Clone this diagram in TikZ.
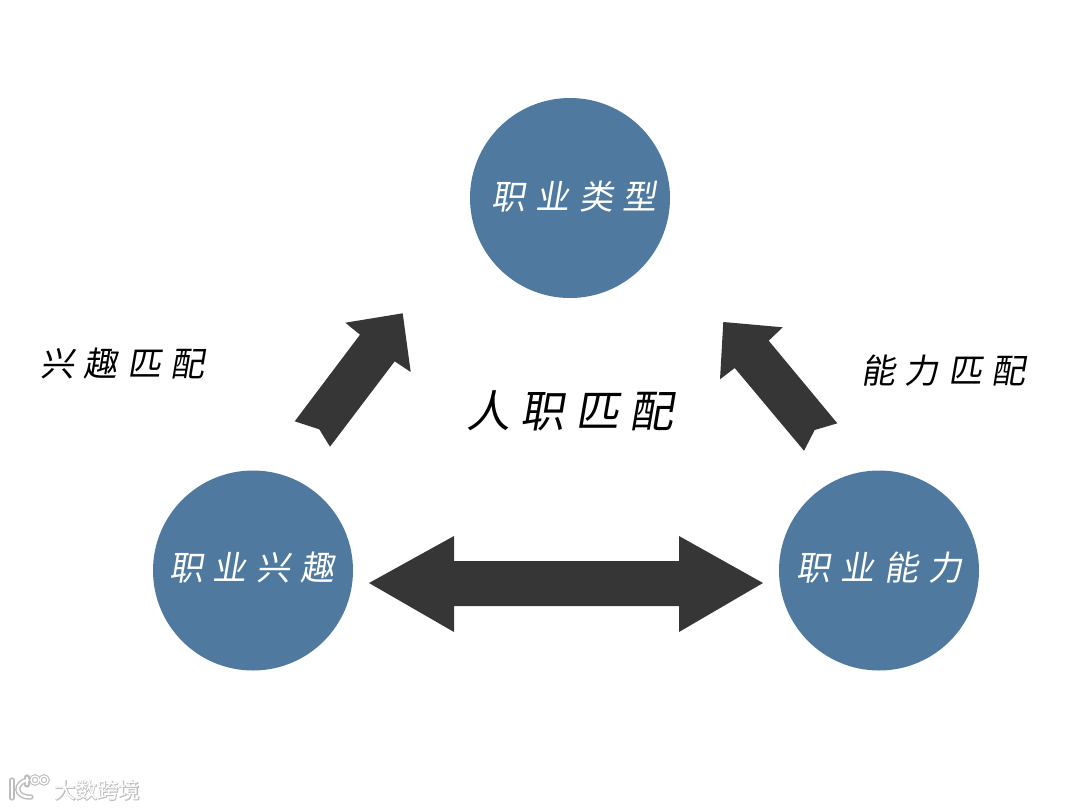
\documentclass[tikz,border=0pt]{standalone}
\usepackage{fontspec}
\newfontfamily\cjkslant[FakeSlant=0.17]{Noto Sans CJK SC}
\newfontfamily\cjkplain{Noto Sans CJK SC}
\newfontfamily\cjkhalo[FakeBold=4]{Noto Sans CJK SC}
\definecolor{disc}{HTML}{4F799F}
\definecolor{blockc}{HTML}{363636}
\definecolor{wshadow}{HTML}{BDBDBD}
\tikzset{
  x=0.75pt,y=-0.75pt,
  disc/.style={circle,fill=disc,minimum size=150pt,inner sep=0pt},
  blockarrow/.style={fill=blockc,draw=none},
  small/.style={font=\cjkslant\fontsize{25.5pt}{28pt}\selectfont,inner sep=0pt},
  smallw/.style={small,text=white},
  big/.style={font=\cjkslant\fontsize{33pt}{36pt}\selectfont,inner sep=0pt,text=black},
  wm/.style={font=\cjkplain\fontsize{16pt}{18pt}\selectfont,inner sep=0pt},
  wmh/.style={font=\cjkhalo\fontsize{16pt}{18pt}\selectfont,inner sep=0pt,text=wshadow},
  logoa/.style={line width=1.8pt,line cap=round},
  logob/.style={line width=1pt},
  logoah/.style={line width=4pt,line cap=round,wshadow},
  logobh/.style={line width=2.6pt,wshadow},
}
\newcommand{\gp}{\hspace{7.5pt}}
\newcommand{\gb}{\hspace{7pt}}
\newcommand{\gm}{\hspace{8pt}}
\begin{document}
\begin{tikzpicture}
\useasboundingbox (0,0) rectangle (1080,810);
\fill[white] (0,0) rectangle (1080,810);
% discs
\node[disc] (top) at (570,198) {};
\node[disc] (left) at (253,570.5) {};
\node[disc] (right) at (879,570.5) {};
\node[smallw] (toplabel) at (574,197) {职\gp 业\gp 类\gp 型};
\node[smallw] (leftlabel) at (252,568) {职\gp 业\gp 兴\gp 趣};
\node[smallw] (rightlabel) at (879,568) {职\gp 业\gp 能\gp 力};
% block arrows
\fill[blockarrow] (402.7,313.3) -- (410.7,372) -- (394.7,361.3) -- (330,446.7) -- (319.3,429.3) -- (294.7,421.3) -- (360,334.7) -- (345.3,322.7) -- cycle;
\fill[blockarrow] (723.3,322) -- (782.7,327.3) -- (768.7,340.7) -- (837.3,423.3) -- (814.7,430) -- (804,450.7) -- (734.7,368) -- (720,379.3) -- cycle;
\fill[blockarrow] (369,583) -- (454,536) -- (454,561) -- (679,561) -- (679,536) -- (763,583) -- (679,632) -- (679,606) -- (454,606) -- (454,632) -- cycle;
% labels
\node[small] (lint) at (122.5,364) {兴\gb 趣\gb 匹\gb 配};
\node[small] (labi) at (943.5,371) {能\gb 力\gb 匹\gb 配};
\node[big] (mid) at (570,411) {人\gm 职\gm 匹\gm 配};
% watermark
\node[wmh] (wmarkh) at (97.5,790.5) {大数跨境};
\draw[logoah] (12,780) -- (12,798);
\draw[logoah] (28,780) .. controls (14,782) and (14,798) .. (31,797);
\draw[logoah] (27,777) -- (27,785);
\draw[logobh] (35,780) circle (4);
\draw[logobh] (44,780) circle (4);
\node[wm,text=white] (wmark) at (97.5,790) {大数跨境};
\draw[white,logoa] (12,780) -- (12,798);
\draw[white,logoa] (28,780) .. controls (14,782) and (14,798) .. (31,797);
\draw[white,logob] (27,777) -- (27,785);
\draw[white,logob] (35,780) circle (4);
\draw[white,logob] (44,780) circle (4);
\end{tikzpicture}
\end{document}
